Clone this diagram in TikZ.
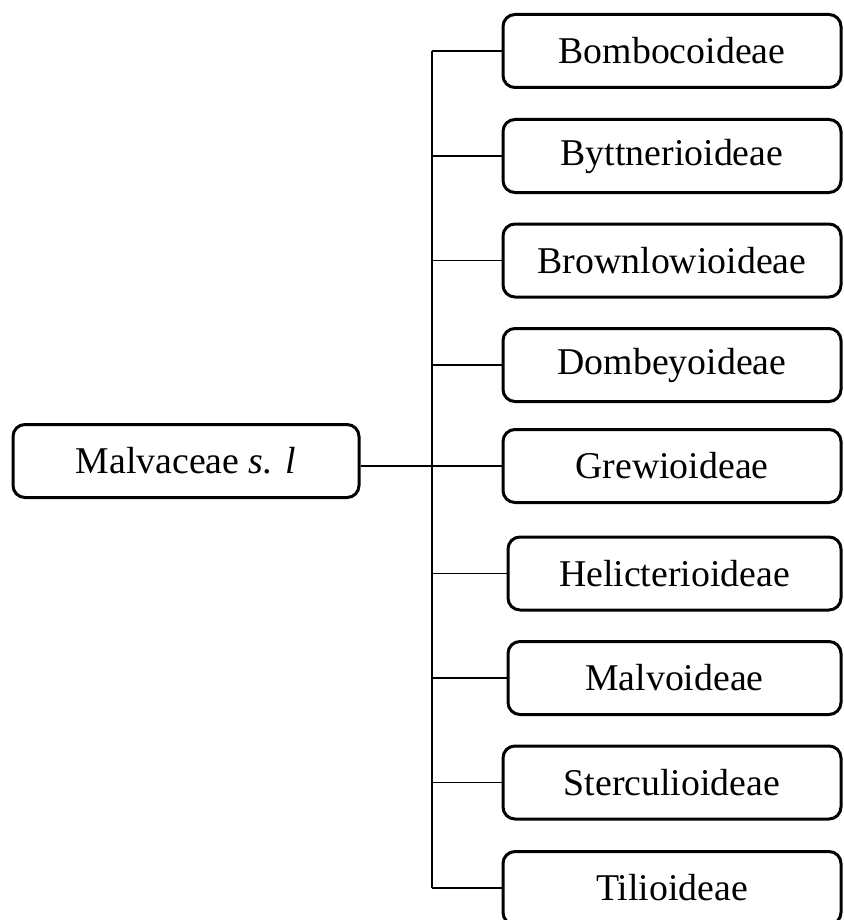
\documentclass[tikz,border=0pt]{standalone}
\usepackage{fontspec}
\setmainfont{Liberation Serif}
\usetikzlibrary{calc}

\tikzset{
    taxon/.style={draw, thick, line width=1.5pt, rounded corners=6pt, minimum height=36.5pt, inner sep=0pt, font=\fontsize{18.9}{22}\selectfont},
    sub/.style={taxon, minimum width=169pt},
    branch/.style={line width=0.65pt}
}

\begin{document}
\begin{tikzpicture}[x=0.5pt, y=-0.5pt]
                    \useasboundingbox (0,0) rectangle (843,920);
                    \node[taxon, minimum width=173pt] (malv) at (186,461) {Malvaceae \textit{s. l}};
                    \coordinate (trunk) at (432,0);
                    \node[sub] (bomb) at (672,51) {Bombocoideae};
                    \node[sub] (bytt) at (672,156) {Byttnerioideae};
                    \node[sub] (brown) at (672,260.5) {Brownlowioideae};
                    \node[sub] (domb) at (672,365) {Dombeyoideae};
                    \node[sub] (grew) at (672,466) {Grewioideae};
                    \node[sub, minimum width=166.5pt] (helic) at (674.5,573.5) {Helicterioideae};
                    \node[sub, minimum width=166.5pt] (malvo) at (674.5,678) {Malvoideae};
                    \node[sub] (sterc) at (672,782.5) {Sterculioideae};
                    \node[sub] (tilio) at (672,888) {Tilioideae};
                    \draw[branch] (malv.east |- grew.west) -- (trunk |- grew.west);
                    \draw[branch] (trunk |- bomb.west) -- (trunk |- tilio.west);
                    \foreach \sf in {bomb, bytt, brown, domb, grew, helic, malvo, sterc, tilio}
                        \draw[branch] (trunk |- \sf.west) -- (\sf.west);
                \end{tikzpicture}
\end{document}
